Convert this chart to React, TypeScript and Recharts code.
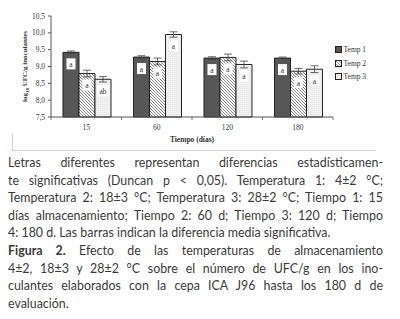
import { BarChart, Bar, XAxis, YAxis, ErrorBar, LabelList } from "recharts";

const DAYS = ["15", "60", "120", "180"];
const TEMP1 = [9.42, 9.28, 9.25, 9.25];
const TEMP2 = [8.79, 9.15, 9.27, 8.86];
const TEMP3 = [8.62, 9.95, 9.06, 8.92];
const ERR1 = [0.04, 0.04, 0.04, 0.03];
const ERR2 = [0.1, 0.1, 0.1, 0.08];
const ERR3 = [0.08, 0.08, 0.1, 0.1];
const LETTERS1 = ["a", "a", "a", "a"];
const LETTERS2 = ["a", "a", "a", "a"];
const LETTERS3 = ["ab", "a", "a", "a"];
const Y_TICKS = [7.5, 8, 8.5, 9, 9.5, 10, 10.5];

const data = DAYS.map((day, i) => ({
  day,
  t1: TEMP1[i],
  t2: TEMP2[i],
  t3: TEMP3[i],
  e1: ERR1[i],
  e2: ERR2[i],
  e3: ERR3[i],
  l1: LETTERS1[i],
  l2: LETTERS2[i],
  l3: LETTERS3[i],
}));

const SERIES = [
  { key: "t1", err: "e1", letter: "l1", name: "Temp 1", fill: "#575757" },
  { key: "t2", err: "e2", letter: "l2", name: "Temp 2", fill: "url(#hatch)" },
  { key: "t3", err: "e3", letter: "l3", name: "Temp 3", fill: "url(#dots)" },
];

const SERIF = "'Liberation Serif', 'DejaVu Serif', serif";

const LetterBox = (props: any) => {
  const { x, y, width, value } = props;
  const cx = x + width / 2;
  const w = String(value).length > 1 ? 12 : 9;
  return (
    <g>
      <rect x={cx - w / 2} y={y + 6} width={w} height={11} fill="#fff" />
      <text x={cx} y={y + 14.5} textAnchor="middle" fontSize={7.5} fontFamily={SERIF} fill="#333">
        {value}
      </text>
    </g>
  );
};

const DayTick = (props: any) => {
  const { x, y, payload, index } = props;
  const half = payload?.offset || 35;
  return (
    <g>
      <line x1={x - half} y1={117} x2={x - half} y2={120} stroke="#555" strokeWidth={0.8} />
      {index === DAYS.length - 1 && (
        <line x1={x + half} y1={117} x2={x + half} y2={120} stroke="#555" strokeWidth={0.8} />
      )}
      <text x={x} y={y} dy="0.71em" textAnchor="middle" fontSize={7.5} fontFamily={SERIF} fill="#333">
        {payload.value}
      </text>
    </g>
  );
};

const YLabel = (props: any) => {
  const vb = props.viewBox || { x: 21, y: 16, height: 101 };
  const x = vb.x + 4;
  const y = vb.y + vb.height / 2;
  return (
    <text
      x={x}
      y={y}
      transform={`rotate(-90 ${x} ${y})`}
      textAnchor="middle"
      dominantBaseline="central"
      fontSize={7}
      fontWeight="bold"
      fontFamily={SERIF}
      fill="#333"
    >
      log<tspan fontSize={5} dy={1.5}>10</tspan>
      <tspan dy={-1.5}> UFC/g inoculantes</tspan>
    </text>
  );
};

const LINES: { text: any; justify: boolean }[] = [
  { text: "Letras diferentes representan diferencias estadísticamen-", justify: true },
  { text: "te significativas (Duncan p < 0,05). Temperatura 1: 4±2 °C;", justify: true },
  { text: "Temperatura 2: 18±3 °C; Temperatura 3: 28±2 °C; Tiempo 1: 15", justify: true },
  { text: "días almacenamiento; Tiempo 2: 60 d; Tiempo 3: 120 d; Tiempo", justify: true },
  { text: "4: 180 d. Las barras indican la diferencia media significativa.", justify: false },
  {
    text: (
      <>
        <b>Figura 2.</b> Efecto de las temperaturas de almacenamiento
      </>
    ),
    justify: true,
  },
  { text: "4±2, 18±3 y 28±2 °C sobre el número de UFC/g en los ino-", justify: true },
  { text: "culantes elaborados con la cepa ICA J96 hasta los 180 d de", justify: true },
  { text: "evaluación.", justify: false },
];

export default function App() {
  return (
    <div style={{ position: "relative", width: 400, height: 319, margin: -8, background: "#fff" }}>
      <div style={{ position: "absolute", left: 0, top: 0 }}>
        <BarChart
          width={400}
          height={150}
          data={data}
          margin={{ top: 16, right: 67, left: 21, bottom: 7 }}
          barCategoryGap="17%"
          barGap={0}
        >
          <defs>
            <pattern id="hatch" patternUnits="userSpaceOnUse" width={3} height={3}>
              <rect width={3} height={3} fill="#fff" />
              <path d="M-1,-1 L4,4 M-1,2 L1,4 M2,-1 L4,1" stroke="#666" strokeWidth={0.8} />
            </pattern>
            <pattern id="dots" patternUnits="userSpaceOnUse" width={2} height={2}>
              <rect width={2} height={2} fill="#f1f1f1" />
              <rect width={0.6} height={0.6} fill="#d6d6d6" />
            </pattern>
          </defs>
          <XAxis
            dataKey="day"
            height={26}
            stroke="#555"
            tickLine={false}
            tickSize={4}
            tickMargin={4}
            tick={<DayTick />}
            interval={0}
            label={{
              value: "Tiempo (días)",
              position: "insideBottom",
              offset: 1,
              fontSize: 7.5,
              fontWeight: "bold",
              fontFamily: SERIF,
              fill: "#333",
            }}
          />
          <YAxis
            width={30}
            domain={[7.5, 10.5]}
            ticks={Y_TICKS}
            interval={0}
            stroke="#555"
            tickSize={3}
            tickMargin={3}
            tickFormatter={(v: number) => v.toFixed(1).replace(".", ",")}
            tick={{ fontSize: 7.5, fontFamily: SERIF, fill: "#333" }}
            label={<YLabel />}
          />
          {SERIES.map((s) => (
            <Bar
              key={s.key}
              dataKey={s.key}
              name={s.name}
              fill={s.fill}
              stroke="#222"
              strokeWidth={1}
              isAnimationActive={false}
            >
              <ErrorBar dataKey={s.err} width={4} stroke="#444" strokeWidth={0.8} />
              <LabelList dataKey={s.letter} content={<LetterBox />} />
            </Bar>
          ))}
        </BarChart>
      </div>
      <div
        style={{
          position: "absolute",
          left: 335,
          top: 43,
          fontFamily: SERIF,
          fontSize: 7.5,
          color: "#333",
        }}
      >
        {SERIES.map((s) => (
          <div key={s.key} style={{ display: "flex", alignItems: "center", height: 13.5 }}>
            <svg width={7} height={7} style={{ marginRight: 1.5 }}>
              <rect x={0.5} y={0.5} width={6} height={6} fill={s.fill} stroke="#222" strokeWidth={1} />
            </svg>
            {s.name}
          </div>
        ))}
      </div>
      <div style={{ position: "absolute", left: 12, top: 133, width: 1, height: 18, background: "#d0d0d0" }} />
      <div style={{ position: "absolute", left: 12, top: 150, width: 364, height: 1, background: "#d0d0d0" }} />
      <div
        style={{
          position: "absolute",
          left: 8,
          top: 154,
          width: 375,
          fontFamily: "Lato, 'Open Sans', sans-serif",
          fontSize: 12.4,
          lineHeight: "17.6px",
          color: "#3a3a3a",
        }}
      >
        {LINES.map((l, i) => (
          <div
            key={i}
            style={{
              whiteSpace: "nowrap",
              textAlign: l.justify ? "justify" : "left",
              textAlignLast: l.justify ? "justify" : "left",
            }}
          >
            {l.text}
          </div>
        ))}
      </div>
    </div>
  );
}
